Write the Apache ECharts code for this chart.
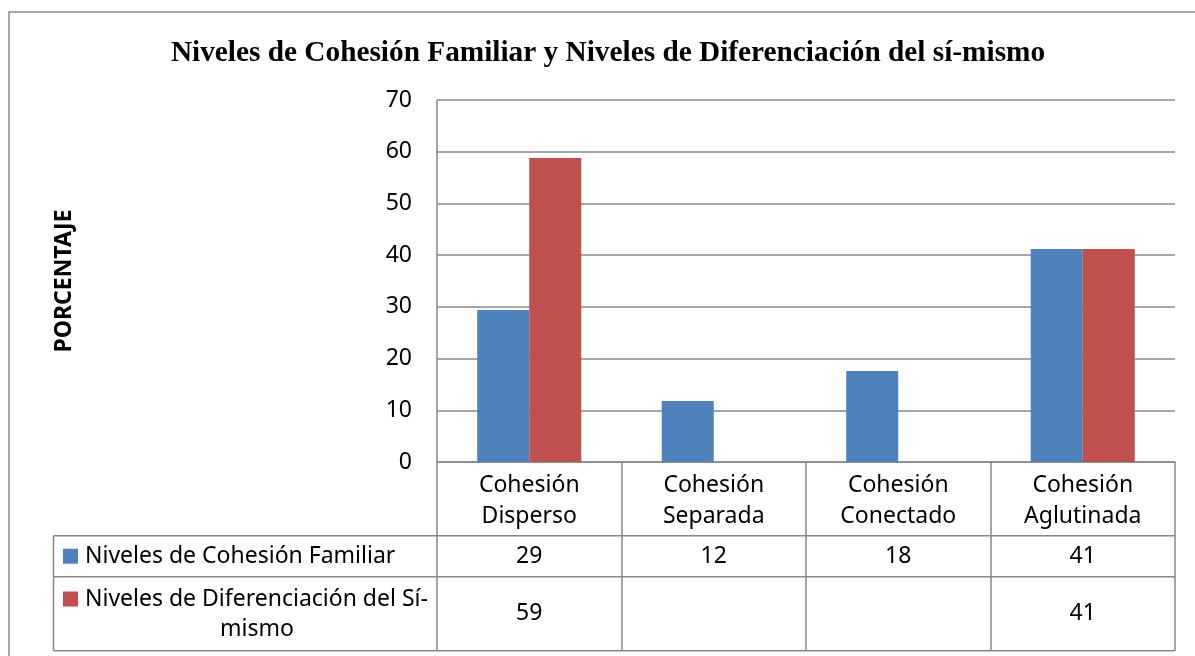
<!DOCTYPE html>
<html>
<head>
<meta charset="utf-8">
<script src="https://cdn.jsdelivr.net/npm/echarts@6/dist/echarts.min.js"></script>
<style>
html,body{margin:0;padding:0;background:#fff;}
#chart{width:1195px;height:656px;}
</style>
</head>
<body>
<div id="chart"></div>
<script>
const titleText = 'Niveles de Cohesión Familiar y Niveles de Diferenciación del sí-mismo';
const yAxisName = 'PORCENTAJE';
const categories = ['Cohesión Disperso', 'Cohesión Separada', 'Cohesión Conectado', 'Cohesión Aglutinada'];
const seriesNames = ['Niveles de Cohesión Familiar', 'Niveles de Diferenciación del Sí-mismo'];
const cohesionValues = [29.4, 11.8, 17.6, 41.2];
const diferenciacionValues = [58.8, null, null, 41.2];
const yMin = 0, yMax = 70, yInterval = 10;
const colors = ['#4F81BD', '#C0504D'];

const GRAY = '#898989';
const FONT = '"Noto Sans", "Open Sans", sans-serif';
const chart = echarts.init(document.getElementById('chart'));

const gridLeft = 437, gridTop = 100, gridRight = 20, gridBottom = 194;

chart.setOption({
  animation: false,
  backgroundColor: '#fff',
  title: {
    text: titleText,
    left: 603,
    top: 34,
    textAlign: 'center',
    textStyle: { fontFamily: '"Liberation Serif", "Times New Roman", serif', fontWeight: 'bold', fontSize: 29.3, color: '#000' }
  },
  grid: { left: gridLeft, top: gridTop, right: gridRight, bottom: gridBottom },
  xAxis: {
    type: 'category',
    data: categories,
    axisLine: { show: true, lineStyle: { color: GRAY, width: 1.5 } },
    axisTick: { show: true, length: 189, lineStyle: { color: GRAY, width: 1.5 } },
    axisLabel: {
      interval: 0,
      margin: 8,
      fontFamily: FONT,
      fontSize: 23,
      color: '#000',
      lineHeight: 31,
      formatter: v => v.replace(' ', '\n')
    }
  },
  yAxis: {
    type: 'value',
    min: yMin, max: yMax, interval: yInterval,
    name: yAxisName,
    nameLocation: 'middle',
    nameRotate: 90,
    nameGap: 361,
    nameTextStyle: { fontFamily: FONT, fontWeight: 'bold', fontSize: 23, color: '#000' },
    axisLine: { show: true, lineStyle: { color: GRAY, width: 1.5 } },
    axisTick: { show: false },
    axisLabel: { fontFamily: FONT, fontSize: 23, color: '#000', margin: 25 },
    splitLine: { show: true, lineStyle: { color: GRAY, width: 1.5 } }
  },
  series: [
    { name: seriesNames[0], type: 'bar', data: cohesionValues, itemStyle: { color: colors[0] }, barGap: '0%', barCategoryGap: '43.6%' },
    { name: seriesNames[1], type: 'bar', data: diferenciacionValues, itemStyle: { color: colors[1] }, barGap: '0%', barCategoryGap: '43.6%' }
  ]
});

// Data table below the axis
const tableLeft = 53.5, tableRight = 1175;
const rowTop = [535.7, 576.7];
const rowBottom = 650.7;
const g = [];
const lineStyle = { stroke: GRAY, lineWidth: 1.5 };
[rowTop[0], rowTop[1], rowBottom].forEach(y => {
  g.push({ type: 'line', shape: { x1: tableLeft, y1: y, x2: tableRight, y2: y }, style: lineStyle, silent: true });
});
g.push({ type: 'line', shape: { x1: tableLeft, y1: rowTop[0], x2: tableLeft, y2: rowBottom }, style: lineStyle, silent: true });

const allValues = [cohesionValues, diferenciacionValues];
allValues.forEach((vals, r) => {
  const yc = r === 0 ? (rowTop[0] + rowTop[1]) / 2 : (rowTop[1] + rowBottom) / 2;
  vals.forEach((v, i) => {
    if (v == null) return;
    const xc = chart.convertToPixel({ xAxisIndex: 0 }, categories[i]);
    g.push({ type: 'text', style: { text: String(Math.round(v)), x: xc, y: yc, align: 'center', verticalAlign: 'middle', font: '23px ' + FONT, fill: '#000' }, silent: true });
  });
});

// Legend keys in the data table
const keyX = 63, keySize = 15, textX = 85;
const row1c = (rowTop[0] + rowTop[1]) / 2;
g.push({ type: 'rect', shape: { x: keyX, y: row1c - keySize / 2, width: keySize, height: keySize }, style: { fill: colors[0] }, silent: true });
g.push({ type: 'text', style: { text: seriesNames[0], x: textX, y: row1c, align: 'left', verticalAlign: 'middle', font: '23px ' + FONT, fill: '#000' }, silent: true });

const split = seriesNames[1].indexOf('Sí-') + 3;
const line1 = seriesNames[1].slice(0, split), line2 = seriesNames[1].slice(split);
const row2l1 = 599, row2l2 = 629;
g.push({ type: 'rect', shape: { x: keyX, y: row2l1 - keySize / 2, width: keySize, height: keySize }, style: { fill: colors[1] }, silent: true });
g.push({ type: 'text', style: { text: line1, x: textX, y: row2l1, align: 'left', verticalAlign: 'middle', font: '23px ' + FONT, fill: '#000' }, silent: true });
g.push({ type: 'text', style: { text: line2, x: 257, y: row2l2, align: 'center', verticalAlign: 'middle', font: '23px ' + FONT, fill: '#000' }, silent: true });

// outer chart border
g.push({ type: 'rect', shape: { x: 9, y: 12, width: 1300, height: 800 }, style: { fill: 'none', stroke: GRAY, lineWidth: 1.5 }, silent: true, z: -1 });

chart.setOption({ graphic: g });
</script>
</body>
</html>
